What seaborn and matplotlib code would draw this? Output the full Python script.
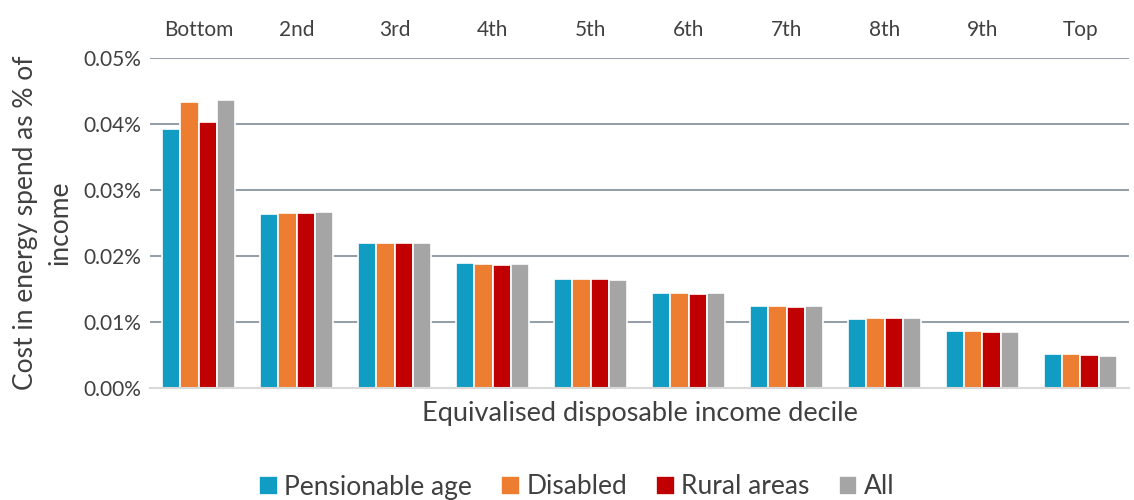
import pandas as pd
import matplotlib.pyplot as plt
import seaborn as sns
from matplotlib.ticker import PercentFormatter

# --- DATA (values in percent) ---
deciles = ["Bottom", "2nd", "3rd", "4th", "5th", "6th", "7th", "8th", "9th", "Top"]
groups = ["Pensionable age", "Disabled", "Rural areas", "All"]
pensionable_age = [0.0392, 0.0264, 0.0220, 0.0189, 0.0165, 0.0144, 0.0124, 0.0105, 0.0087, 0.0051]
disabled = [0.0433, 0.0265, 0.0220, 0.0188, 0.0165, 0.0144, 0.0124, 0.0106, 0.0086, 0.0051]
rural_areas = [0.0403, 0.0265, 0.0220, 0.0187, 0.0165, 0.0143, 0.0123, 0.0106, 0.0085, 0.0050]
all_households = [0.0436, 0.0266, 0.0219, 0.0188, 0.0164, 0.0144, 0.0124, 0.0106, 0.0085, 0.0049]
colors = ["#119CC3", "#ED7D31", "#C00000", "#A5A5A5"]

df = pd.DataFrame({
    "decile": deciles * 4,
    "group": [g for g in groups for _ in deciles],
    "value": pensionable_age + disabled + rural_areas + all_households,
})

sns.set_theme(style="white")
plt.rcParams["font.family"] = ["Lato", "DejaVu Sans"]

fig = plt.figure(figsize=(11.34, 5), dpi=100)
ax = fig.add_axes([0.132, 0.224, 0.864, 0.66])

sns.barplot(data=df, x="decile", y="value", hue="group", order=deciles,
            hue_order=groups, palette=colors, width=0.75, ax=ax,
            edgecolor="white", linewidth=1.2, saturation=1)

ax.set_ylim(0, 0.05)
ax.set_xlim(-0.5, 9.5)
ax.yaxis.set_major_formatter(PercentFormatter(xmax=100, decimals=2))
ax.set_yticks([0, 0.01, 0.02, 0.03, 0.04, 0.05])
ax.grid(axis="y", color="#7F8C99", linewidth=1.2)
ax.set_axisbelow(True)
for s in ["top", "right", "left"]:
    ax.spines[s].set_visible(False)
ax.spines["bottom"].set_color("#D9D9D9")
ax.spines["bottom"].set_linewidth(1.5)

ax.xaxis.tick_top()
ax.tick_params(axis="x", length=0, labelsize=15, labelcolor="#404040", pad=13)
ax.tick_params(axis="y", length=0, labelsize=15, labelcolor="#404040", pad=6)

ax.set_xlabel("Equivalised disposable income decile", fontsize=19.5, color="#404040")
ax.xaxis.set_label_position("bottom")
ax.xaxis.labelpad = 9
ax.set_ylabel("Cost in energy spend as % of\nincome", fontsize=19, color="#404040",
              linespacing=1.45)
ax.yaxis.labelpad = 8

ax.legend(loc="center", bbox_to_anchor=(0.436, -0.30), ncol=4, frameon=False,
          fontsize=19, handlelength=0.7, handleheight=0.7, handletextpad=0.25,
          columnspacing=1.1, labelcolor="#404040")

plt.savefig("out.png", dpi=100)
